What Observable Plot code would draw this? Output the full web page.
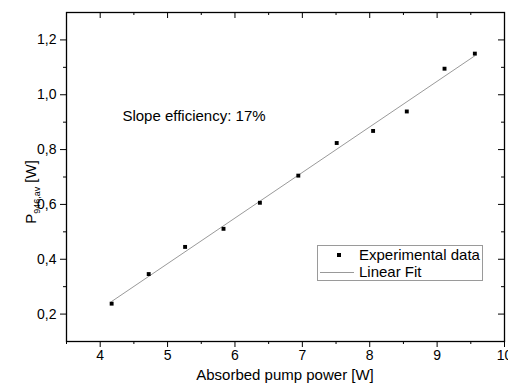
<!DOCTYPE html>
<html>
<head>
<meta charset="utf-8">
<script src="https://cdn.jsdelivr.net/npm/d3@7"></script>
<script src="https://cdn.jsdelivr.net/npm/@observablehq/plot@0.6"></script>
<style>
  html, body { margin: 0; padding: 0; background: #fff; }
  #wrap { position: relative; width: 508px; height: 390px; overflow: hidden; font-family: "Liberation Sans", Arial, sans-serif; }
  #legend { position: absolute; left: 317px; top: 245px; width: 166px; height: 36px; border: 1px solid #9a9a9a; box-sizing: border-box; font-size: 15px; color: #000; }
  #legend .row { position: absolute; left: 0; height: 18px; line-height: 18px; width: 100%; }
  #legend .sym { position: absolute; left: 19px; top: 7px; width: 4px; height: 4px; background: #000; }
  #legend .ln { position: absolute; left: 2px; top: 9px; width: 34px; height: 0; border-top: 1px solid #999; }
  #legend .lab { position: absolute; left: 41px; top: 0; }
</style>
</head>
<body>
<div id="wrap"></div>
<script>
// Data
const absorbedPower = [4.17, 4.72, 5.26, 5.83, 6.37, 6.94, 7.51, 8.05, 8.55, 9.11, 9.56];
const outputPower   = [0.238, 0.346, 0.445, 0.511, 0.606, 0.705, 0.824, 0.868, 0.939, 1.095, 1.150];
const xMajorTicks = [4, 5, 6, 7, 8, 9, 10];
const xMinorTicks = [3.5, 4.5, 5.5, 6.5, 7.5, 8.5, 9.5];
const yMajorTicks = [0.2, 0.4, 0.6, 0.8, 1.0, 1.2];
const yMinorTicks = [0.3, 0.5, 0.7, 0.9, 1.1];
const xTitle = "Absorbed pump power [W]";
const annotation = "Slope efficiency: 17%";
const legendLabels = ["Experimental data", "Linear Fit"];

const data = absorbedPower.map((x, i) => ({x, y: outputPower[i]}));

const W = 508, H = 390;
const mL = 66, mR = 4, mT = 12, mB = 49;
const pw = W - mL - mR, ph = H - mT - mB;
const fmt = d => d3.format(".1f")(d).replace(".", ",");

const chart = Plot.plot({
  width: W, height: H,
  marginLeft: mL, marginRight: mR, marginTop: mT, marginBottom: mB,
  style: { fontFamily: "Liberation Sans, Arial, sans-serif", fontSize: "14px", color: "#000", background: "#fff", overflow: "hidden" },
  x: { domain: [3.5, 10], ticks: xMajorTicks, tickSize: 6, tickPadding: 3, tickFormat: d => String(d), label: null },
  y: { domain: [0.1, 1.3], ticks: yMajorTicks, tickSize: 6, tickPadding: 4, tickFormat: fmt, label: null },
  marks: [
    // minor outward ticks (bottom, left)
    Plot.ruleX(xMinorTicks, { stroke: "#000", insetTop: ph, insetBottom: -3 }),
    Plot.ruleY(yMinorTicks, { stroke: "#000", insetRight: pw, insetLeft: -3 }),
    // mirrored inward ticks (top, right)
    Plot.ruleX(xMajorTicks.filter(d => d < 10), { stroke: "#000", insetBottom: ph - 6 }),
    Plot.ruleX(xMinorTicks.filter(d => d > 3.5), { stroke: "#000", insetBottom: ph - 3 }),
    Plot.ruleY(yMajorTicks, { stroke: "#000", insetLeft: pw - 6 }),
    Plot.ruleY(yMinorTicks, { stroke: "#000", insetLeft: pw - 3 }),
    Plot.linearRegressionY(data, { x: "x", y: "y", stroke: "#9a9a9a", strokeWidth: 1, ci: 0 }),
    Plot.dot(data, { x: "x", y: "y", symbol: "square", r: 2.2, fill: "#000", stroke: "none" }),
    Plot.text([annotation], { x: [4.33], y: [0.923], text: d => d, textAnchor: "start", lineAnchor: "middle", fontSize: 15, fill: "#000" }),
    Plot.frame({ stroke: "#000", strokeWidth: 1.3 })
  ]
});

const wrap = document.getElementById("wrap");
wrap.appendChild(chart);

const svg = d3.select(chart);
// x axis title
svg.append("text")
  .attr("x", mL + pw / 2).attr("y", 380)
  .attr("text-anchor", "middle")
  .attr("font-size", 15).attr("fill", "#000")
  .text(xTitle);
// y axis title with subscript
const yt = svg.append("text")
  .attr("transform", "translate(36,192) rotate(-90)")
  .attr("text-anchor", "middle")
  .attr("font-size", 15).attr("fill", "#000");
yt.append("tspan").text("P");
yt.append("tspan").attr("font-size", 9).attr("dy", 4).text("946,av");
yt.append("tspan").attr("dy", -4).text(" [W]");

// legend
const lg = document.createElement("div");
lg.id = "legend";
lg.innerHTML =
  `<div class="row" style="top:0px"><div class="sym"></div><div class="lab">${legendLabels[0]}</div></div>` +
  `<div class="row" style="top:17px"><div class="ln"></div><div class="lab">${legendLabels[1]}</div></div>`;
wrap.appendChild(lg);
</script>
</body>
</html>
